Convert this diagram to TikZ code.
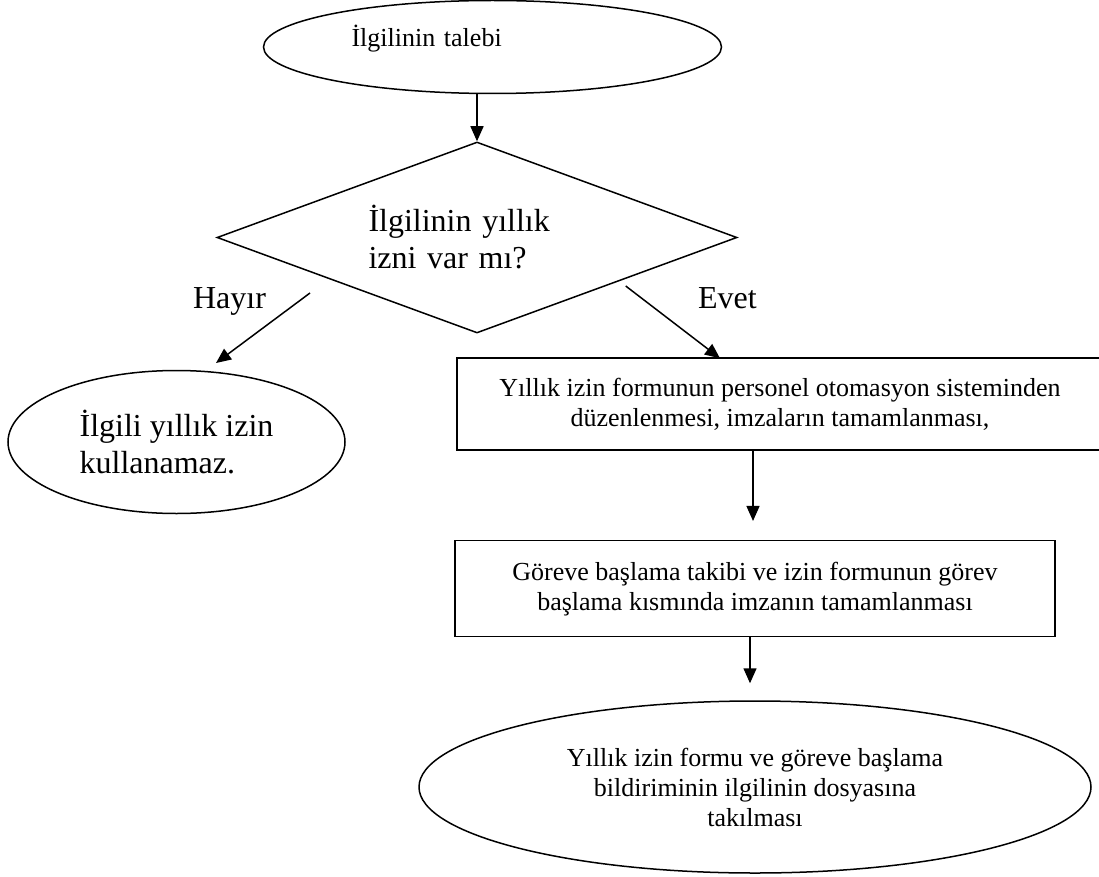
\documentclass[tikz,border=0pt]{standalone}
\usepackage{fontspec}
\setmainfont{Liberation Serif}
\usetikzlibrary{shapes.geometric,arrows.meta}
\begin{document}
\begin{tikzpicture}[x=1pt,y=-1pt,line width=1.5pt,
    kucuk/.style={font=\fontsize{26}{30}\selectfont},
    buyuk/.style={font=\fontsize{32}{37}\selectfont},
    oval/.style={draw,ellipse,inner sep=0pt},
    kutu/.style={draw,rectangle,align=center,inner sep=0pt},
    ok/.style={-{Triangle[length=15pt,width=13pt]}}]
  \useasboundingbox (0,0) rectangle (1099,877);
  \node[oval,kucuk,minimum width=458pt,minimum height=93pt,text width=282pt,text depth=22pt,align=left] (talep) at (492.5,47) {İlgilinin talebi};
  \node[draw,diamond,buyuk,aspect=2.7,inner sep=0pt,minimum width=520pt,minimum height=191pt,text width=217pt,align=left] (karar) at (477,237.5) {İlgilinin yıllık\\izni var mı?};
  \node[oval,buyuk,minimum width=337pt,minimum height=143pt,align=left] (red) at (176.5,442) {İlgili yıllık izin\\kullanamaz.};
  \node[kutu,kucuk,minimum width=646pt,minimum height=92pt] (form) at (780,404) {Yıllık izin formunun personel otomasyon sisteminden\\düzenlenmesi, imzaların tamamlanması,};
  \node[kutu,kucuk,minimum width=600pt,minimum height=96pt] (goreve) at (755,588.7) {Göreve başlama takibi ve izin formunun görev\\başlama kısmında imzanın tamamlanması};
  \node[oval,kucuk,minimum width=672pt,minimum height=172pt,align=center] (dosya) at (755,787) {Yıllık izin formu ve göreve başlama\\bildiriminin ilgilinin dosyasına\\takılması};
  \node[buyuk,anchor=base] (hayir) at (229.5,308) {Hayır};
  \node[buyuk,anchor=base] (evet) at (727.5,308) {Evet};
  % serbest ok uclari
  \coordinate (hayirbas) at (310,293);
  \coordinate (hayiruc) at (216,363);
  \coordinate (evetbas) at (625.7,286);
  \coordinate (evetuc) at (720,358.3);
  \draw[ok] (talep.south -| karar.north) -- (karar.north);
  \draw[ok] (hayirbas) -- (hayiruc);
  \draw[ok] (evetbas) -- (evetuc);
  \draw[ok] (form.south -| 753,0) -- ([yshift=19pt]goreve.north -| 753,0);
  \draw[ok] (goreve.south -| 750,0) -- ([yshift=17pt]dosya.north -| 750,0);
\end{tikzpicture}
\end{document}
